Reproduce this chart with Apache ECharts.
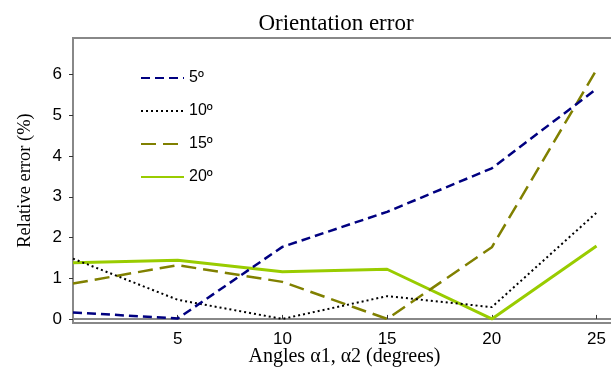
<!DOCTYPE html>
<html>
<head>
<meta charset="utf-8">
<script src="https://cdn.jsdelivr.net/npm/echarts@6/dist/echarts.min.js"></script>
<style>html,body{margin:0;padding:0;background:#fff}#c{width:611px;height:370px}</style>
</head>
<body>
<div id="c"></div>
<script>
const angles = [0, 5, 10, 15, 20, 25];
const xTicks = [5, 10, 15, 20, 25];
const yTicks = [0, 1, 2, 3, 4, 5, 6];
const seriesNames = ['5º', '10º', '15º', '20º'];
const err5 = [0.16, 0.01, 1.77, 2.63, 3.70, 5.65];
const err10 = [1.48, 0.47, 0.0, 0.56, 0.29, 2.61];
const err15 = [0.87, 1.32, 0.91, 0.0, 1.76, 6.12];
const err20 = [1.38, 1.44, 1.16, 1.22, 0.0, 1.79];

const values = [err5, err10, err15, err20];
const styles = [
  {color: '#000080', width: 2.5, type: [9, 5]},
  {color: '#000000', width: 2, type: [2, 3]},
  {color: '#808000', width: 2.5, type: [15, 7]},
  {color: '#99CC00', width: 3, type: 'solid'}
];

const chart = echarts.init(document.getElementById('c'), null, {renderer: 'canvas'});
chart.setOption({
  animation: false,
  backgroundColor: '#fff',
  title: {
    text: 'Orientation error', left: 331, top: 7, textAlign: 'center',
    textStyle: {fontFamily: 'Liberation Serif', fontSize: 23, fontWeight: 'normal', color: '#000'}
  },
  legend: {
    orient: 'vertical', left: 135, top: 65, itemWidth: 43, itemHeight: 14, itemGap: 17,
    itemStyle: {opacity: 0},
    textStyle: {fontFamily: 'Liberation Sans', fontSize: 16, color: '#000'},
    data: seriesNames
  },
  grid: {left: 73, right: -5, top: 38, bottom: 47, show: true, borderColor: '#888', borderWidth: 2,
         containLabel: false, outerBoundsMode: 'none'},
  xAxis: {
    type: 'value', min: 0, max: 25.93,
    name: 'Angles α1, α2 (degrees)', nameLocation: 'middle', nameGap: 24, nameMoveOverlap: false,
    nameTextStyle: {fontFamily: 'Liberation Serif', fontSize: 20, color: '#000'},
    axisLine: {lineStyle: {color: '#888', width: 2}},
    axisTick: {inside: true, length: 4, customValues: xTicks, lineStyle: {color: '#333', width: 1}},
    axisLabel: {customValues: xTicks, margin: 8, fontFamily: 'Liberation Sans', fontSize: 17, color: '#000'},
    splitLine: {show: false}
  },
  yAxis: {
    type: 'value', min: -0.1, max: 6.9,
    name: 'Relative error (%)', nameLocation: 'middle', nameGap: 38, nameRotate: 90, nameMoveOverlap: false,
    nameTextStyle: {fontFamily: 'Liberation Serif', fontSize: 18.5, color: '#000'},
    axisLine: {show: true, lineStyle: {color: '#888', width: 2}},
    axisTick: {show: true, inside: false, length: 4, customValues: yTicks, lineStyle: {color: '#333', width: 1}},
    axisLabel: {customValues: yTicks, margin: 11, fontFamily: 'Liberation Sans', fontSize: 17, color: '#000'},
    splitLine: {show: false}
  },
  series: seriesNames.map((n, i) => ({
    name: n, type: 'line', symbol: 'none', smooth: false,
    data: angles.map((a, j) => [a, values[i][j]]),
    lineStyle: styles[i], itemStyle: {color: styles[i].color},
    z: 10 - i
  }))
});
</script>
</body>
</html>
